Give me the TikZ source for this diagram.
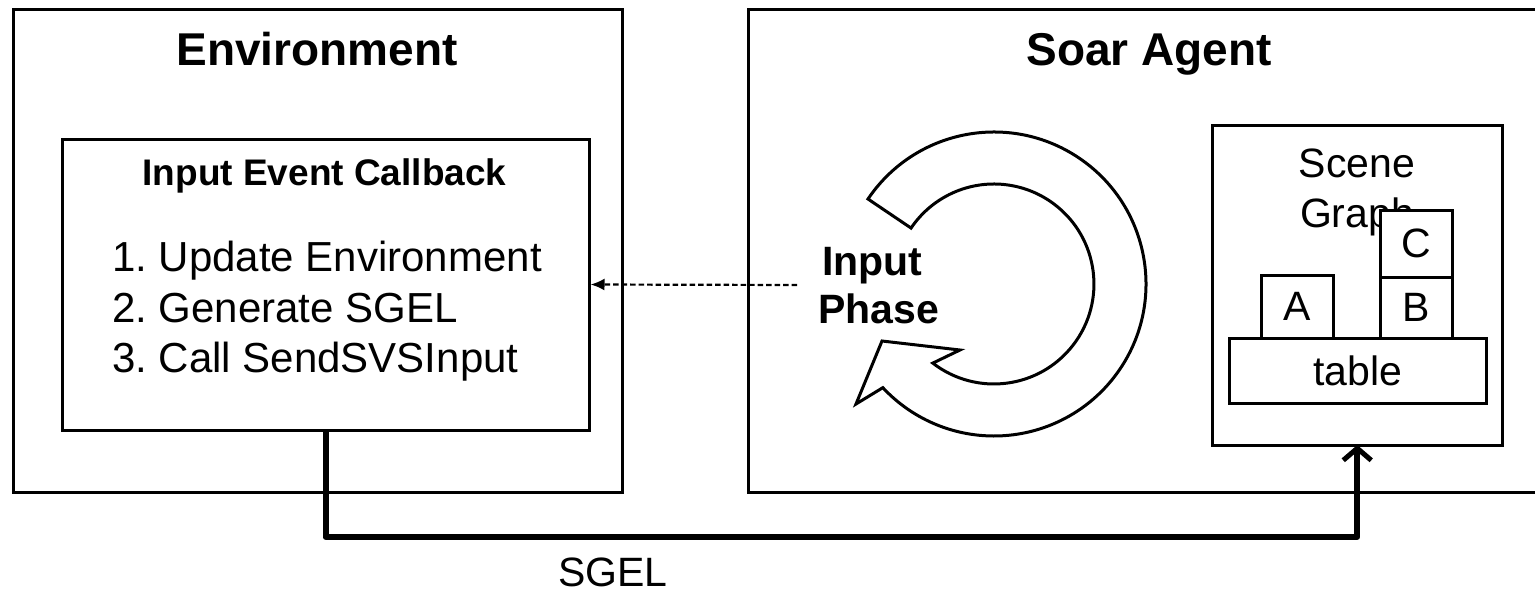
\documentclass[tikz,border=0pt]{standalone}
\usepackage{fontspec}
\setmainfont{Liberation Sans}
\usetikzlibrary{arrows.meta}
\newcommand{\pxfont}[1]{\fontsize{#1}{#1}\selectfont}
\frenchspacing
\begin{document}
\begin{tikzpicture}[x=1pt,y=-1pt,
  box/.style={draw, line width=3pt, fill=white, inner sep=0pt, outer sep=0pt},
  txt/.style={inner sep=0pt, anchor=base},
  title/.style={txt, font=\pxfont{46}\bfseries},
  reg/.style={txt, font=\pxfont{41}},
  item/.style={txt, anchor=base west, font=\pxfont{42}},
  boldtxt/.style={txt, font=\pxfont{41}\bfseries},
  flow/.style={line width=6pt, line join=round, -{Straight Barb[length=12pt,width=28pt,line width=5pt]}},
  callarrow/.style={line width=2.2pt, dash pattern=on 5.5pt off 3pt, -{Latex[length=14pt,width=12pt]}}
]
\useasboundingbox (0,0) rectangle (1535,597);
\clip (0,0) rectangle (1535,597);

% outer boxes
\node[box, minimum width=609pt, minimum height=483pt] (env) at (317.5,250.5) {};
\node[box, minimum width=802pt, minimum height=483pt] (soar) at (1149,250.5) {};
\node[title] (envt) at (317,65) {Environment};
\node[title] (soart) at (1149,65) {Soar Agent};

% callback box
\node[box, minimum width=527pt, minimum height=291pt] (cb) at (325.5,284.5) {};
\node[txt, font=\pxfont{37}\bfseries] (cbt) at (324.5,185) {Input Event Callback};
\node[item] (it1) at (112,271) {1. Update Environment};
\node[item] (it2) at (112,322) {2. Generate SGEL};
\node[item] (it3) at (112,372) {3. Call SendSVSInput};

% cycle arrow
\draw[line width=3pt, fill=white, line join=miter]
  (994,284) ++(214:152) arc[start angle=214, end angle=497, radius=152]
  -- (856,404) -- (882,341) -- (960,350) -- (932.8,363.1)
  arc[start angle=487.7, end angle=214, radius=100] -- cycle;
\node[boldtxt, anchor=base west] (inp) at (822,275) {Input};
\node[boldtxt, anchor=base west] (pha) at (818,323) {Phase};

% scene graph
\node[box, minimum width=289.5pt, minimum height=319.5pt] (sg) at (1357.25,285.25) {};
\node[reg] (sgt1) at (1357,177) {Scene};
\node[reg] (sgt2) at (1357,227) {Graph};
\node[box, minimum width=72pt, minimum height=63pt, font=\pxfont{41}] (ba) at (1297,306.5) {A};
\node[box, minimum width=72pt, minimum height=61pt, font=\pxfont{41}] (bb) at (1416,307.5) {B};
\node[box, minimum width=72pt, minimum height=67pt, font=\pxfont{41}] (bc) at (1416,243.5) {C};
\node[box, minimum width=257pt, minimum height=65pt, font=\pxfont{41}] (tab) at (1357.5,370.5) {table};

% connectors
\coordinate (dstart) at (797,285);
\draw[callarrow] (dstart) -- ([xshift=1.5pt]cb.east);
\draw[flow] (cb.south) -- ++(0,107) -| (sg.south);
\node[reg] (sgel) at (613,586) {SGEL};
\end{tikzpicture}
\end{document}
